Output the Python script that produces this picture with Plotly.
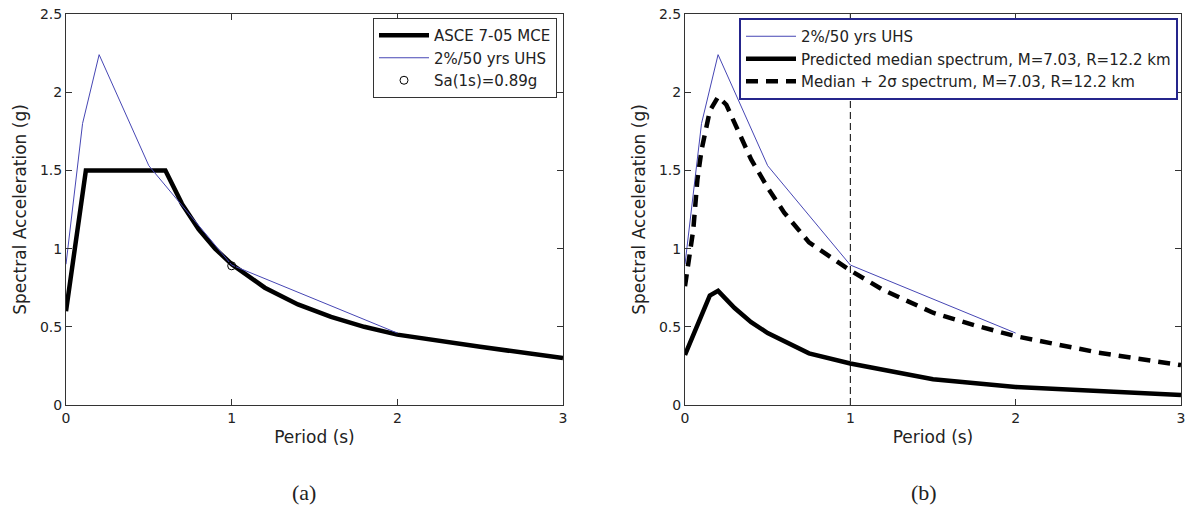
import plotly.graph_objects as go

# ---------------- data ----------------
# Panel (a)
T_mce = [0.0, 0.12, 0.6, 0.7, 0.8, 0.9, 1.0, 1.2, 1.4, 1.6, 1.8, 2.0, 2.5, 3.0]
Sa_mce = [0.6, 1.5, 1.5, 1.286, 1.125, 1.0, 0.9, 0.75, 0.643, 0.563, 0.5, 0.45, 0.372, 0.30]

T_uhs = [0.0, 0.1, 0.2, 0.5, 1.0, 2.0]
Sa_uhs = [0.9, 1.8, 2.24, 1.53, 0.895, 0.46]

T_sa1 = [1.0]
Sa_sa1 = [0.89]

# Panel (b)
T_med = [0.0, 0.1, 0.15, 0.2, 0.3, 0.4, 0.5, 0.75, 1.0, 1.5, 2.0, 3.0]
Sa_med = [0.32, 0.573, 0.70, 0.73, 0.62, 0.53, 0.46, 0.33, 0.265, 0.165, 0.115, 0.064]

T_p2s = [0.0, 0.05, 0.075, 0.1, 0.15, 0.2, 0.25, 0.3, 0.4, 0.5, 0.6, 0.75, 0.9, 1.0,
         1.2, 1.5, 1.75, 2.0, 2.5, 3.0]
Sa_p2s = [0.76, 1.12, 1.44, 1.63, 1.88, 1.97, 1.92, 1.80, 1.57, 1.39, 1.23, 1.04, 0.93, 0.86,
          0.735, 0.59, 0.51, 0.44, 0.335, 0.255]

T_ref = [1.0, 1.0]
Sa_ref = [0.0, 2.5]

x_ticks = [0, 1, 2, 3]
y_ticks = [0, 0.5, 1, 1.5, 2, 2.5]
y_ticktext = ["0", "0.5", "1", "1.5", "2", "2.5"]

# ---------------- figure ----------------
W, H = 1186, 510
BLUE = "#4646b4"
FONT = "DejaVu Sans"

fig = go.Figure()

# panel (a)
fig.add_trace(go.Scatter(x=T_mce, y=Sa_mce, mode="lines", name="ASCE 7-05 MCE", legendgroup="a1",
                         line=dict(color="black", width=4.5), xaxis="x", yaxis="y", legend="legend"))
fig.add_trace(go.Scatter(x=T_uhs, y=Sa_uhs, mode="lines", name="2%/50 yrs UHS", legendgroup="a2",
                         line=dict(color=BLUE, width=1), xaxis="x", yaxis="y", legend="legend"))
fig.add_trace(go.Scatter(x=T_sa1, y=Sa_sa1, mode="markers", name="Sa(1s)=0.89g", legendgroup="a3",
                         marker=dict(symbol="circle-open", size=8, color="black", line=dict(width=1)),
                         xaxis="x", yaxis="y", legend="legend"))

# panel (b)
fig.add_trace(go.Scatter(x=T_ref, y=Sa_ref, mode="lines", showlegend=False,
                         line=dict(color="black", width=1, dash="7px,4px"),
                         xaxis="x2", yaxis="y2"))
fig.add_trace(go.Scatter(x=T_uhs, y=Sa_uhs, mode="lines", name="2%/50 yrs UHS", legendgroup="b1",
                         line=dict(color=BLUE, width=1), xaxis="x2", yaxis="y2", legend="legend2"))
fig.add_trace(go.Scatter(x=T_med, y=Sa_med, mode="lines", legendgroup="b2",
                         name="Predicted median spectrum, M=7.03, R=12.2 km",
                         line=dict(color="black", width=4.5), xaxis="x2", yaxis="y2", legend="legend2"))
fig.add_trace(go.Scatter(x=T_p2s, y=Sa_p2s, mode="lines", legendgroup="b3",
                         name="Median + 2σ spectrum, M=7.03, R=12.2 km",
                         line=dict(color="black", width=4.5, dash="12px,8px"),
                         xaxis="x2", yaxis="y2", legend="legend2"))

ydom = [105 / H, 496 / H]
xdom1 = [66 / W, 563 / W]
xdom2 = [685 / W, 1181 / W]

def xaxis(dom, anchor):
    return dict(domain=dom, anchor=anchor, range=[0, 3], tickvals=x_ticks,
                ticks="inside", ticklen=6, tickcolor="#333", showline=True, linecolor="#333",
                linewidth=1, mirror="ticks", showgrid=False, zeroline=False,
                tickfont=dict(family=FONT, size=14, color="#222"),
                title=dict(text="Period (s)", font=dict(family=FONT, size=17, color="#222"), standoff=6),
                automargin=False)

def yaxis(anchor):
    return dict(domain=ydom, anchor=anchor, range=[0, 2.5], tickvals=y_ticks, ticktext=y_ticktext,
                ticks="inside", ticklen=6, tickcolor="#333", showline=True, linecolor="#333",
                linewidth=1, mirror="ticks", showgrid=False, zeroline=False,
                tickfont=dict(family=FONT, size=14, color="#222"),
                title=dict(text="Spectral Acceleration (g)", font=dict(family=FONT, size=17, color="#222"),
                           standoff=8),
                automargin=False)

fig.update_layout(
    width=W, height=H,
    margin=dict(l=0, r=0, t=0, b=0),
    paper_bgcolor="white", plot_bgcolor="white",
    xaxis=xaxis(xdom1, "y"), yaxis=yaxis("x"),
    xaxis2=xaxis(xdom2, "y2"), yaxis2=yaxis("x2"),
    legend=dict(x=557 / W, y=1 - 18 / H, xanchor="right", yanchor="top",
                bgcolor="white", bordercolor="#333", borderwidth=1, itemwidth=50,
                font=dict(family=FONT, size=15, color="#222"), tracegroupgap=0),
    legend2=dict(x=739 / W, y=1 - 18 / H, xanchor="left", yanchor="top",
                 bgcolor="white", bordercolor="#25258c", borderwidth=2, itemwidth=50,
                 font=dict(family=FONT, size=15, color="#222"), tracegroupgap=0),
    showlegend=True,
    annotations=[
        dict(text="(a)", x=304 / W, y=1 - 492 / H, xref="paper", yref="paper",
             showarrow=False, xanchor="center", yanchor="middle",
             font=dict(family="Liberation Serif", size=22, color="#222")),
        dict(text="(b)", x=924 / W, y=1 - 492 / H, xref="paper", yref="paper",
             showarrow=False, xanchor="center", yanchor="middle",
             font=dict(family="Liberation Serif", size=22, color="#222")),
    ],
)

fig.write_html("out.html", config={"displayModeBar": False},
               post_script="document.body.style.margin='0';document.body.style.overflow='hidden';")
